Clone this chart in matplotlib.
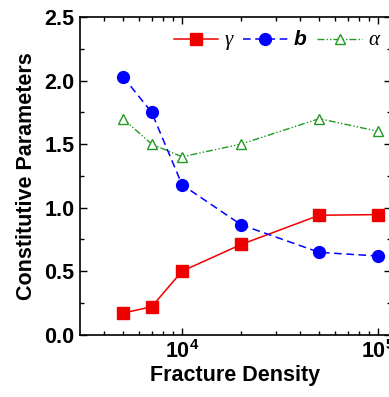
import matplotlib
matplotlib.use("Agg")
import matplotlib.pyplot as plt
from matplotlib.ticker import MultipleLocator, LogLocator, NullFormatter, FormatStrFormatter

density = [5000, 7000, 10000, 20000, 50000, 100000]
gamma = [0.17, 0.22, 0.50, 0.71, 0.94, 0.945]
b_vals = [2.03, 1.75, 1.18, 0.865, 0.648, 0.619]
alpha = [1.70, 1.50, 1.40, 1.50, 1.70, 1.60]

plt.rcParams['font.family'] = ['Liberation Sans', 'DejaVu Sans']

fig = plt.figure(figsize=(3.89, 3.97), dpi=100)
ax = fig.add_axes([80 / 389, 1 - 334.7 / 397, (391 - 80) / 389, (334.7 - 17) / 397])

ax.plot(density, gamma, color='#ee0000', lw=1.1, ls='-', marker='s', ms=8,
        mec='#ee0000', mfc='#ee0000', label='γ')
ax.plot(density, b_vals, color='#0000ff', lw=1.1, ls=(0, (5, 3)), marker='o', ms=8.5,
        mec='#0000ff', mfc='#0000ff', label='b')
ax.plot(density, alpha, color='#229922', lw=1.0, ls=(0, (5, 1.5, 1, 1.5, 1, 1.5)),
        marker='^', ms=7.5, mec='#229922', mfc='white', mew=1.0, label='α')

ax.set_xscale('log')
ax.set_xlim(3020, 1.16e5)
ax.set_ylim(0, 2.5)
ax.yaxis.set_major_locator(MultipleLocator(0.5))
ax.yaxis.set_minor_locator(MultipleLocator(0.25))
ax.xaxis.set_major_locator(LogLocator(base=10, numticks=10))
ax.xaxis.set_minor_locator(LogLocator(base=10, subs=range(2, 10), numticks=10))
ax.xaxis.set_minor_formatter(NullFormatter())
ax.yaxis.set_major_formatter(FormatStrFormatter('%.1f'))

ax.tick_params(which='both', direction='in', top=True, right=True, width=1.0)
ax.tick_params(which='major', length=5, labelsize=15.5, pad=4)
ax.tick_params(which='minor', length=3)
for lab in ax.get_xticklabels() + ax.get_yticklabels():
    lab.set_fontweight('bold')
for s in ax.spines.values():
    s.set_linewidth(1.2)

ax.set_xlabel('Fracture Density', fontsize=15.5, fontweight='bold', labelpad=1)
ax.set_ylabel('Constitutive Parameters', fontsize=15.5, fontweight='bold', labelpad=5)

leg = fig.legend(*ax.get_legend_handles_labels(), loc='center right',
                 bbox_to_anchor=(379 / 389, 1 - 40 / 397), ncol=3, frameon=False,
                 handlelength=2.45, columnspacing=0.6, handletextpad=0.35, fontsize=13,
                 borderpad=0, borderaxespad=0)
texts = leg.get_texts()
texts[0].set_fontfamily('Liberation Serif')
texts[0].set_fontstyle('italic')
texts[0].set_fontsize(15)
texts[1].set_fontstyle('italic')
texts[1].set_fontweight('bold')
texts[1].set_fontsize(15)
texts[2].set_fontfamily('Liberation Serif')
texts[2].set_fontstyle('italic')
texts[2].set_fontsize(15)

fig.savefig('out.png', dpi=100)
